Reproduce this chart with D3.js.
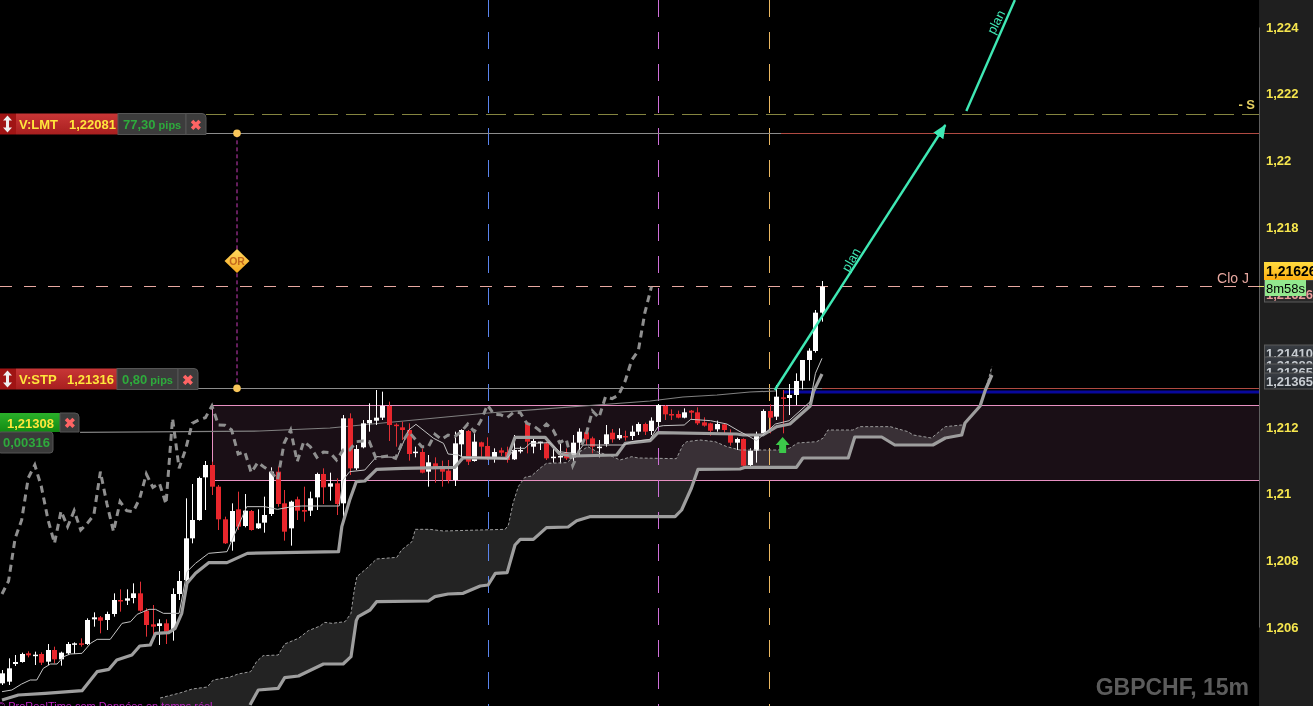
<!DOCTYPE html>
<html><head><meta charset="utf-8">
<script src="https://cdn.jsdelivr.net/npm/d3@7/dist/d3.min.js"></script>
<style>html,body{margin:0;padding:0;background:#000;overflow:hidden}svg{display:block;font-family:"Liberation Sans",Arial,sans-serif}</style>
</head><body>
<script>
const opens=[1.20431,1.20436,1.20489,1.20495,1.20521,1.20515,1.20519,1.20496,1.20531,1.20503,1.20521,1.20548,1.20551,1.20549,1.20623,1.20629,1.20621,1.20639,1.20681,1.20679,1.20687,1.20701,1.20649,1.20608,1.20603,1.20611,1.20591,1.20699,1.20741,1.20866,1.20921,1.21049,1.21086,1.21021,1.20923,1.20856,1.20953,1.20903,1.20948,1.20896,1.20913,1.20939,1.21066,1.20971,1.20896,1.20983,1.20951,1.20949,1.20989,1.21059,1.21021,1.21031,1.20971,1.21226,1.21076,1.21139,1.21211,1.21219,1.21228,1.21263,1.21207,1.21199,1.21191,1.21124,1.21125,1.21066,1.21091,1.21083,1.21069,1.21041,1.21148,1.21188,1.21098,1.21154,1.21143,1.21106,1.21130,1.21125,1.21103,1.21129,1.21211,1.21141,1.21154,1.21151,1.21109,1.21111,1.21123,1.21109,1.21153,1.21184,1.21166,1.21139,1.21149,1.21183,1.21166,1.21173,1.21173,1.21186,1.21209,1.21188,1.21215,1.21263,1.21239,1.21239,1.21228,1.21249,1.21244,1.21214,1.21211,1.21193,1.21208,1.21181,1.21153,1.21164,1.21086,1.21129,1.21181,1.21248,1.21231,1.21289,1.21287,1.21296,1.21339,1.21401,1.21428,1.21543];
const highs=[1.20471,1.20506,1.20516,1.20523,1.20527,1.20526,1.20524,1.20549,1.20541,1.20526,1.20555,1.20554,1.20566,1.20626,1.20644,1.20633,1.20646,1.20701,1.20713,1.20713,1.20731,1.20736,1.20656,1.20666,1.20623,1.20623,1.20716,1.20768,1.20986,1.21029,1.21051,1.21098,1.21096,1.21026,1.20931,1.20971,1.21006,1.20999,1.20951,1.20953,1.20991,1.21079,1.21081,1.21011,1.20979,1.20991,1.21021,1.21006,1.21063,1.21076,1.21063,1.21046,1.21236,1.21241,1.21146,1.21221,1.21271,1.21311,1.21306,1.21276,1.21211,1.21216,1.21211,1.21141,1.21136,1.21116,1.21109,1.21099,1.21101,1.21186,1.21193,1.21191,1.21186,1.21156,1.21169,1.21136,1.21138,1.21141,1.21176,1.21141,1.21216,1.21171,1.21156,1.21156,1.21141,1.21151,1.21136,1.21176,1.21196,1.21196,1.21171,1.21161,1.21206,1.21194,1.21196,1.21189,1.21204,1.21214,1.21213,1.21229,1.21269,1.21266,1.21253,1.21249,1.21256,1.21251,1.21259,1.21229,1.21213,1.21219,1.21211,1.21193,1.21168,1.21166,1.21136,1.21186,1.21253,1.21268,1.21326,1.21311,1.21329,1.21361,1.21401,1.21436,1.21551,1.21638];
const lows=[1.20426,1.20426,1.20483,1.20493,1.20509,1.20486,1.20486,1.20486,1.20491,1.20484,1.20516,1.20519,1.20541,1.20546,1.20601,1.20581,1.20591,1.20631,1.20646,1.20666,1.20671,1.20646,1.20571,1.20571,1.20546,1.20549,1.20559,1.20681,1.20736,1.20851,1.20919,1.20951,1.20996,1.20891,1.20849,1.20829,1.20891,1.20899,1.20889,1.20894,1.20883,1.20933,1.20961,1.20859,1.20844,1.20921,1.20916,1.20933,1.20951,1.20969,1.20979,1.20936,1.20931,1.21056,1.21071,1.21136,1.21186,1.21206,1.21221,1.21158,1.21141,1.21161,1.21099,1.21109,1.21061,1.21021,1.21033,1.21021,1.21031,1.21023,1.21109,1.21086,1.21096,1.21109,1.21101,1.21093,1.21113,1.21093,1.21101,1.21121,1.21121,1.21121,1.21131,1.21101,1.21093,1.21091,1.21101,1.21083,1.21116,1.21146,1.21121,1.21109,1.21141,1.21153,1.21161,1.21159,1.21161,1.21176,1.21176,1.21176,1.21201,1.21221,1.21221,1.21226,1.21226,1.21224,1.21206,1.21201,1.21174,1.21186,1.21181,1.21144,1.21131,1.21081,1.21083,1.21093,1.21179,1.21181,1.21221,1.21181,1.21236,1.21266,1.21313,1.21339,1.21423,1.21516];
const closes=[1.20461,1.20476,1.20495,1.20519,1.20515,1.20517,1.20493,1.20531,1.20503,1.20523,1.20549,1.20551,1.20547,1.20621,1.20629,1.20619,1.20639,1.20681,1.20677,1.20686,1.20701,1.20649,1.20606,1.20601,1.20611,1.20586,1.20699,1.20738,1.20866,1.20921,1.21047,1.21086,1.21021,1.20923,1.20851,1.20948,1.20901,1.20949,1.20891,1.20911,1.20936,1.21066,1.20969,1.20886,1.20976,1.20949,1.20946,1.20986,1.21059,1.21019,1.21031,1.20969,1.21226,1.21076,1.21134,1.21211,1.21221,1.21228,1.21263,1.21206,1.21205,1.21191,1.21119,1.21126,1.21063,1.21094,1.21079,1.21066,1.21041,1.21151,1.21191,1.21096,1.21156,1.21141,1.21109,1.21125,1.21123,1.21101,1.21131,1.21131,1.21156,1.21158,1.21156,1.21106,1.21111,1.21113,1.21106,1.21153,1.21186,1.21163,1.21141,1.21141,1.21178,1.21163,1.21176,1.21171,1.21186,1.21209,1.21186,1.21219,1.21266,1.21238,1.21237,1.21228,1.21244,1.21243,1.21211,1.21204,1.21189,1.21209,1.21191,1.21153,1.21164,1.21084,1.21129,1.21174,1.21248,1.21228,1.21291,1.21285,1.21296,1.21338,1.21401,1.21429,1.21543,1.21621];

// Ichimoku lines: [bar index, price]
const tenkan=[[0,1.20406],[1.5,1.20411],[3,1.20429],[4.3,1.20441],[5.3,1.20441],[6.3,1.20476],[7.4,1.20489],[8.4,1.20489],[9.4,1.20511],[10.4,1.20519],[12.2,1.20521],[13.5,1.20551],[14.5,1.20563],[16.5,1.20563],[18.3,1.20611],[19.6,1.20616],[20.6,1.20638],[22.4,1.20653],[23.4,1.20653],[24.6,1.20641],[27,1.20641],[28.2,1.20766],[29.5,1.20791],[31.5,1.20821],[34.3,1.20826],[37.3,1.20961],[40,1.20961],[42,1.20953],[44.2,1.20961],[45.7,1.20963],[51.4,1.20963],[52,1.21041],[53,1.21066],[55.3,1.21071],[57.1,1.21111],[60.2,1.21109],[62,1.21191],[63.1,1.21208],[65.8,1.21166],[67.3,1.21151],[68,1.21119],[69.6,1.21116],[70.3,1.21109],[77,1.21106],[78.2,1.21136],[79.7,1.21136],[80.5,1.21151],[83.5,1.21153],[85,1.21126],[87.6,1.21119],[88.6,1.21146],[94.7,1.21146],[96,1.21156],[98.8,1.21163],[100,1.21201],[100.8,1.21204],[104,1.21206],[105,1.21223],[108,1.21219],[110.5,1.21209],[112.5,1.21186],[113.5,1.21176],[115,1.21159],[116,1.21176],[117.9,1.21209],[120,1.21219],[123.2,1.21276],[124,1.21361],[125,1.21406]];
const kijun=[[0,1.20381],[2.5,1.20396],[6.6,1.20401],[12.2,1.20409],[14.5,1.20466],[16.3,1.20473],[17.5,1.20501],[19.8,1.20516],[21,1.20543],[22.6,1.20546],[23.4,1.20581],[25.4,1.20583],[26.4,1.20596],[27.4,1.20641],[28.2,1.20731],[29.5,1.20761],[31.5,1.20793],[34.3,1.20793],[37.4,1.20821],[51.3,1.20826],[51.8,1.20901],[53,1.20981],[54,1.21036],[55.3,1.21038],[57.1,1.21073],[61,1.21076],[69,1.21079],[70.3,1.21108],[77,1.21106],[78.2,1.21169],[82.8,1.21169],[85,1.21119],[87,1.21113],[93.7,1.21116],[95,1.21151],[98.8,1.21159],[100,1.21183],[112,1.21179],[113,1.21176],[116,1.21176],[118.1,1.21201],[120.1,1.21209],[123.2,1.21263],[123.7,1.21306],[125,1.21359]];
const senkouA=[[24.1,1.20387],[27.1,1.20402],[29,1.20414],[31.3,1.2042],[32.2,1.20441],[34.8,1.2045],[36,1.20459],[37.9,1.20466],[38.8,1.20496],[39.8,1.20514],[42.1,1.20516],[43.1,1.20549],[45.2,1.20566],[46.7,1.20589],[48.5,1.20603],[49.2,1.20614],[50.3,1.20611],[52.3,1.20616],[53.2,1.20641],[53.7,1.20711],[54.1,1.20751],[55.6,1.20776],[57.1,1.20804],[60.2,1.20809],[60.9,1.20831],[62.5,1.20856],[63,1.20893],[65.2,1.20893],[67.3,1.20888],[76.7,1.20893],[77.2,1.20906],[77.9,1.20971],[78.7,1.21021],[79.7,1.21049],[80.7,1.21053],[82,1.21076],[83,1.21091],[86.1,1.21093],[88.1,1.21126],[89.3,1.21141],[90.7,1.21126],[93.1,1.21111],[94.2,1.21101],[96,1.21111],[97,1.21107],[102.8,1.21105],[103.8,1.21146],[104.4,1.21156],[106.4,1.21161],[108.7,1.21156],[110.5,1.21141],[112.5,1.21131],[118.3,1.21131],[120.1,1.21137],[121.3,1.21152],[124.2,1.21156],[125.2,1.21167],[125.9,1.21191],[129.7,1.21191],[130.8,1.21201],[135.4,1.21201],[138.1,1.21186],[138.9,1.21176],[141.7,1.21167],[143.8,1.21201],[146.3,1.21206],[146.8,1.21212],[149.1,1.21263],[149.9,1.21311],[150.9,1.21381]];
const senkouB=[[24.1,1.20246],[34.8,1.20261],[37.8,1.20366],[39.07,1.20411],[42.1,1.20416],[43.1,1.20448],[45.2,1.20453],[49,1.20489],[52,1.20489],[53.2,1.20511],[54,1.20619],[54.3,1.20631],[56.1,1.20651],[57.1,1.20676],[65,1.20678],[66,1.20691],[68,1.20699],[70.3,1.20701],[72.9,1.20723],[74.1,1.20726],[75.2,1.20761],[77,1.20763],[78.2,1.20846],[79,1.20863],[81,1.20863],[83,1.20898],[86.3,1.209],[87.6,1.20919],[89.6,1.20931],[102.6,1.20931],[103.6,1.20951],[105.1,1.21017],[106.1,1.21073],[112.5,1.21074],[113.3,1.21079],[121.1,1.21079],[122.1,1.21107],[129,1.21107],[130,1.2117],[134.1,1.2117],[136.1,1.21146],[141.9,1.21146],[143.8,1.21167],[146.3,1.21176],[146.8,1.21212],[149.1,1.21263],[149.9,1.21311],[150.9,1.21356]];
const chikouShift=26;
const chikou=closes.slice(chikouShift); // lagging close

const longAverage=[[11.9,1.21184],[39.3,1.21188],[50,1.21197],[74.1,1.21242],[98.8,1.21278],[103.8,1.2129],[109,1.21296],[114,1.21305],[118,1.21308]];
const planUp=[[117.8,1.21311],[143.8,1.22106]];
const planUp2=[[147,1.22148],[154.4,1.22481]];
const verticals=[[74.1,"#5a84ec"],[100,"#cf6fd8"],[116.9,"#eab762"]];
const yTicks=[1.206,1.208,1.21,1.212,1.218,1.22,1.222,1.224];
const rangeTop=1.21266,rangeBottom=1.21041,rangeStart=32;
const limitPrice=1.22081,stopPrice=1.21316,entryPrice=1.21308,closeDayPrice=1.21623,sPrice=1.22138,bluePrice=1.21305;
const sideTags=[["1,21410",353],["1,21388",365],["1,21365",372],["1,21365",381]];

const W=1313,H=706,axisX=1259;
const x=d3.scaleLinear().domain([0,125]).range([2,822]);
const y=d3.scaleLinear().domain([1.206,1.224]).range([627,27]);
const svg=d3.select("body").append("svg").attr("width",W).attr("height",H);
const defs=svg.append("defs");
function grad(id,a,b){const g=defs.append("linearGradient").attr("id",id).attr("x1",0).attr("y1",0).attr("x2",0).attr("y2",1);g.append("stop").attr("offset",0).attr("stop-color",a);g.append("stop").attr("offset",1).attr("stop-color",b);}
grad("gRed","#c83636","#a81f1f");grad("gGreen","#2ab02a","#128a12");grad("gGold","#ffdc40","#ffae10");grad("gTag","#3a3e44","#22262a");grad("gDia","#ffd860","#f5a820");
defs.append("marker").attr("id","head").attr("viewBox","0 0 14 12").attr("refX",13).attr("refY",6).attr("markerUnits","userSpaceOnUse").attr("markerWidth",14).attr("markerHeight",12).attr("orient","auto").append("path").attr("d","M0,0L14,6L0,12Z").attr("fill","#3fe8b4");

svg.append("rect").attr("width",W).attr("height",H).attr("fill","#000");
const plot=svg.append("g");
const ln=d3.line().x(d=>x(d[0])).y(d=>y(d[1]));

// cloud
plot.append("path").attr("d",ln(senkouA)+"L"+ln(senkouB.slice().reverse()).slice(1)+"Z").attr("fill","#232323");

// range box (brightens what is under it)
const rx0=Math.round(x(rangeStart))+.5,ry0=Math.round(y(rangeTop))+.5,ry1=Math.round(y(rangeBottom))+.5;
plot.append("rect").attr("x",rx0).attr("y",ry0).attr("width",axisX-rx0).attr("height",ry1-ry0).attr("fill","#1a0f16").style("mix-blend-mode","screen");
plot.append("path").attr("d",`M${axisX},${ry0}H${rx0}V${ry1}H${axisX}`).attr("fill","none").attr("stroke","#e890c2").attr("stroke-width",1);

// vertical session lines
verticals.forEach(v=>plot.append("line").attr("x1",Math.round(x(v[0]))+.5).attr("x2",Math.round(x(v[0]))+.5).attr("y1",0).attr("y2",H).attr("stroke",v[1]).attr("stroke-dasharray","17 15").attr("stroke-width",1));

// horizontal levels
function hl(x1,x2,p,col,w,dash){const l=plot.append("line").attr("x1",x1).attr("x2",x2).attr("y1",Math.round(y(p))+.5).attr("y2",Math.round(y(p))+.5).attr("stroke",col).attr("stroke-width",w||1);if(dash)l.attr("stroke-dasharray",dash);}
hl(206,axisX,sPrice,"#84843f",1,"20 8");
hl(206,781,limitPrice,"#8c8c8c");hl(781,axisX,limitPrice,"#b04a42");
hl(198,822,stopPrice,"#8c8c8c");hl(822,axisX,stopPrice,"#b04a42");
hl(0,axisX,closeDayPrice,"#e8a8a0",1,"12 12");
plot.append("line").attr("x1",783).attr("x2",axisX).attr("y1",y(bluePrice)).attr("y2",y(bluePrice)).attr("stroke","#08089c").attr("stroke-width",3);
plot.append("path").attr("d",ln(longAverage)).attr("fill","none").attr("stroke","#808080").attr("stroke-width",1.2);

// link between orders
plot.append("line").attr("x1",237).attr("x2",237).attr("y1",y(limitPrice)).attr("y2",y(stopPrice)).attr("stroke","#c83cb8").attr("stroke-dasharray","4 3");

// candles
const bars=plot.append("g").selectAll("g").data(d3.range(closes.length)).join("g");
bars.append("line").attr("x1",i=>Math.round(x(i))+.5).attr("x2",i=>Math.round(x(i))+.5).attr("y1",i=>y(highs[i])).attr("y2",i=>y(lows[i])).attr("stroke",i=>closes[i]>=opens[i]?"#fff":"#e03036");
bars.append("rect").attr("x",i=>Math.round(x(i))-2).attr("width",5).attr("y",i=>y(Math.max(opens[i],closes[i]))).attr("height",i=>Math.max(1.5,Math.abs(y(opens[i])-y(closes[i])))).attr("fill",i=>closes[i]>=opens[i]?"#fff":"#e8262c");

// ichimoku
plot.append("path").attr("d",ln(senkouA)).attr("fill","none").attr("stroke","#9c9c9c").attr("stroke-width",1).attr("stroke-dasharray","3 2");
plot.append("path").attr("d",ln(senkouB.slice(2))).attr("fill","none").attr("stroke","#9e9e9e").attr("stroke-width",3.2).attr("stroke-linejoin","round");
plot.append("path").attr("d",ln(kijun)).attr("fill","none").attr("stroke","#9e9e9e").attr("stroke-width",3.2).attr("stroke-linejoin","round");
plot.append("path").attr("d",ln(tenkan)).attr("fill","none").attr("stroke","#c4c4c4").attr("stroke-width",1);
plot.append("path").attr("d",d3.line().x((d,i)=>x(i)).y(d=>y(d))(chikou)).attr("fill","none").attr("stroke","#8f8f8f").attr("stroke-width",3).attr("stroke-dasharray","7 5");

// plan arrows
plot.append("path").attr("d",ln(planUp)).attr("fill","none").attr("stroke","#3fe8b4").attr("stroke-width",2.4).attr("marker-end","url(#head)");
plot.append("path").attr("d",ln(planUp2)).attr("fill","none").attr("stroke","#3fe8b4").attr("stroke-width",2.4);
function planText(px,py,a){plot.append("text").attr("transform",`translate(${px},${py}) rotate(${a})`).attr("text-anchor","middle").attr("fill","#3fe8b4").attr("font-size",13).text("plan");}
planText(855,262,-60);planText(1000,24,-63);

// green signal arrow
plot.append("path").attr("transform",`translate(${x(119)},${y(1.21146)})`).attr("d","M0,-8L7,0L3.5,0L3.5,8L-3.5,8L-3.5,0L-7,0Z").attr("fill","#3cc84a");

// gold handles
[limitPrice,stopPrice].forEach(p=>plot.append("circle").attr("cx",237).attr("cy",y(p)).attr("r",3.8).attr("fill","#f8c65a"));
plot.append("path").attr("transform","translate(237,261)").attr("d","M0,-12L12.5,0L0,12L-12.5,0Z").attr("fill","url(#gDia)");
plot.append("text").attr("x",237).attr("y",265).attr("text-anchor","middle").attr("font-size",10.5).attr("font-weight","bold").attr("fill","#c4681c").text("OR");

// labels
plot.append("text").attr("x",1249).attr("y",283).attr("text-anchor","end").attr("fill","#e8a8a0").attr("font-size",14).text("Clo J");
plot.append("text").attr("x",1255).attr("y",109).attr("text-anchor","end").attr("fill","#e6d060").attr("font-size",13).attr("font-weight","bold").text("- S");
svg.append("text").attr("x",1249).attr("y",695).attr("text-anchor","end").attr("fill","#5c5c5c").attr("font-size",23).attr("font-weight","bold").text("GBPCHF, 15m");
svg.append("text").attr("x",-3).attr("y",710).attr("fill","#c224c8").attr("font-size",11).text("© ProRealTime.com  Données en temps réel");

// right axis panel
svg.append("rect").attr("x",axisX).attr("y",0).attr("width",W-axisX).attr("height",H).attr("fill","#1f1f1f");
const axis=svg.append("g").attr("transform",`translate(${axisX},0)`).call(d3.axisRight(y).tickValues(yTicks).tickSize(0).tickPadding(7).tickFormat(v=>d3.format(".3~f")(v).replace(".",",")));
axis.select(".domain").attr("stroke","#5e5e5e");
axis.selectAll("text").attr("fill","#f6e64e").attr("font-size",13).attr("font-weight","bold").attr("font-family",'"Liberation Sans",Arial,sans-serif');

function box(px,py,w,h,fill,stroke,rx){return svg.append("rect").attr("x",px).attr("y",py).attr("width",w).attr("height",h).attr("fill",fill).attr("stroke",stroke||"none").attr("rx",rx||0);}
function label(px,py,t,col,size,bold,anchor){return svg.append("text").attr("x",px).attr("y",py).attr("fill",col).attr("font-size",size).attr("font-weight",bold?"bold":"normal").attr("text-anchor",anchor||"start").text(t);}

// stacked grey price tags
sideTags.forEach(t=>{box(1264.5,t[1]-8,50,16,"url(#gTag)","#5a5a5a");label(1266,t[1]+5,t[0],"#c8cdd2",13,true);});
// close tag, countdown
box(1264.5,280,50,22,"#2a2a2a","#5a5a5a");label(1266,299,"1,21626","#e89a9a",13,true);
box(1264,262,49,18,"url(#gGold)");label(1266,276,"1,21626","#000",14,true);
box(1265,280,41,16,"#92e88e");label(1266,292.5,"8m58s","#000",13,false);
svg.append("line").attr("x1",1259).attr("x2",1264).attr("y1",286.5).attr("y2",286.5).attr("stroke","#e8e860");

// order tags
function closeBtn(px,py,w,h){svg.append("path").attr("d",`M${px},${py}h${w-4}q4,0 4,4v${h-4}h-${w}Z`).attr("fill","#3c3c3c").attr("stroke","#555");label(px+w/2,py+h/2+5.5,"✖","#ff6464",14,true,"middle");}
function orderTag(py,name,price,pipsText,redEnd,grayEnd,btnEnd,xp){
  box(0,py,16,21,"#a01414");
  box(16,py,redEnd-16,21,"url(#gRed)");
  svg.append("path").attr("d",`M7.5,${py+2}l4.5,5h-3v7h3l-4.5,5l-4.5,-5h3v-7h-3Z`).attr("fill","#eee");
  label(19,py+15.5,name,"#ffe63c",13,true);
  label(xp,py+15.5,price,"#ffe63c",13,true);
  box(redEnd,py,grayEnd-redEnd,21,"#3c3c3c","#555");
  const t=label(redEnd+5,py+15.5,pipsText,"#2eaa3c",13,true);
  t.append("tspan").attr("font-size",11).text(" pips");
  closeBtn(grayEnd,py,btnEnd-grayEnd,21);
}
orderTag(113.5,"V:LMT","1,22081","77,30",118,186,206,69);
orderTag(368.5,"V:STP","1,21316","0,80",117,178,198,67);
box(0,413,60,19,"url(#gGreen)");label(7,427.5,"1,21308","#ffe63c",13,true);
closeBtn(60,413,19,19);
box(-2,432,55,21,"#3a3a3a","#555",3);label(3,447,"0,00316","#2eaa3c",13,true);
</script>
</body></html>
